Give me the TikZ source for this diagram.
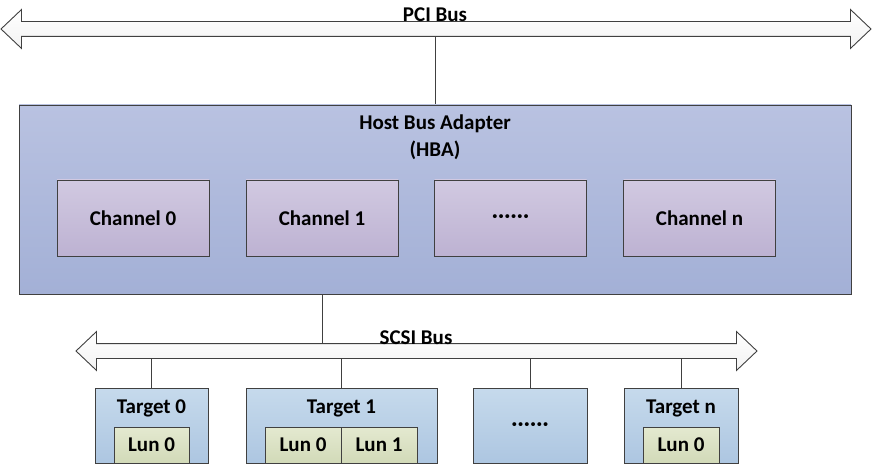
\documentclass[tikz,border=0pt]{standalone}
\usepackage{fontspec}
\setmainfont{Carlito}
\usetikzlibrary{shapes.arrows}
\pgfdeclarelayer{background}
\pgfsetlayers{background,main}
\definecolor{edge}{HTML}{404040}
\definecolor{hbatop}{HTML}{B9C2E1}
\definecolor{hbabot}{HTML}{A3B0D6}
\definecolor{chtop}{HTML}{D1C9E1}
\definecolor{chbot}{HTML}{BDB2D2}
\definecolor{tgtop}{HTML}{C6DAEC}
\definecolor{tgbot}{HTML}{ADC6E1}
\definecolor{luntop}{HTML}{E4E9D0}
\definecolor{lunbot}{HTML}{D2DAB8}
\newcommand{\mydots}{\raisebox{-5pt}[0pt][0pt]{·\kern0.6pt·\kern0.6pt·\kern0.6pt·\kern0.6pt·\kern0.6pt·}}
\begin{document}
\begin{tikzpicture}[x=1pt,y=-1pt,
  every node/.style={font=\fontsize{21}{25}\selectfont\bfseries, text=black},
  bus/.style={double arrow, draw=edge, line width=0.9pt, top color=white, bottom color=gray!10,
    inner xsep=0pt, inner ysep=7pt, minimum width=38pt, double arrow head extend=12pt,
    double arrow tip angle=87},
  hbabox/.style={draw=edge, line width=0.9pt, top color=hbatop, bottom color=hbabot,
    minimum width=832pt, minimum height=189pt, inner sep=0pt},
  chbox/.style={draw=edge, line width=0.9pt, top color=chtop, bottom color=chbot,
    minimum width=152pt, minimum height=76pt, inner sep=0pt},
  tgbox/.style={draw=edge, line width=0.9pt, top color=tgtop, bottom color=tgbot,
    minimum height=75pt, inner sep=0pt},
  lunbox/.style={draw=edge, line width=0.9pt, top color=luntop, bottom color=lunbot,
    minimum width=76pt, minimum height=36pt, inner sep=0pt},
  lbl/.style={anchor=base, inner sep=0pt},
  conn/.style={draw=edge, line width=0.9pt}
]
\useasboundingbox (0,0) rectangle (873,465);

% buses
\node[bus, minimum height=870pt] (pci) at (436,29) {};
\node[bus, minimum height=681pt] (scsi) at (416.5,351) {};
\node[lbl] (pcilbl) at (435,22) {PCI Bus};
\node[lbl] (scsilbl) at (416,344) {SCSI Bus};

% HBA
\node[hbabox] (hba) at (435,199.5) {};
\node[lbl] (hbat1) at (435,130) {Host Bus Adapter};
\node[lbl] (hbat2) at (435,157) {(HBA)};
\node[chbox] (ch0) at (133,218) {Channel 0};
\node[chbox] (ch1) at (322,218) {Channel 1};
\node[chbox] (chd) at (510.5,218) {\mydots};
\node[chbox] (chn) at (699.5,218) {Channel n};

% targets
\node[tgbox, minimum width=113pt] (t0) at (151.5,425.5) {};
\node[tgbox, minimum width=191pt] (t1) at (341.5,425.5) {};
\node[tgbox, minimum width=114pt] (td) at (530,425.5) {\mydots};
\node[tgbox, minimum width=114pt] (tn) at (681,425.5) {};
\node[lbl] (t0l) at (151.5,413) {Target 0};
\node[lbl] (t1l) at (341.5,413) {Target 1};
\node[lbl] (tnl) at (681,413) {Target n};
\node[lunbox, minimum width=75pt] (l00) at (151.5,445) {Lun 0};
\node[lunbox] (l10) at (303,445) {Lun 0};
\node[lunbox] (l11) at (379,445) {Lun 1};
\node[lunbox] (ln0) at (681,445) {Lun 0};

% connectors
\begin{pgfonlayer}{background}
\draw[conn] (hba.north) -- (hba.north |- pci.center);
\draw[conn] (ch1.south) -- (ch1.south |- scsi.center);
\draw[conn] (t0.north) -- (t0.north |- scsi.center);
\draw[conn] (t1.north) -- (t1.north |- scsi.center);
\draw[conn] (td.north) -- (td.north |- scsi.center);
\draw[conn] (tn.north) -- (tn.north |- scsi.center);
\end{pgfonlayer}
\end{tikzpicture}
\end{document}
